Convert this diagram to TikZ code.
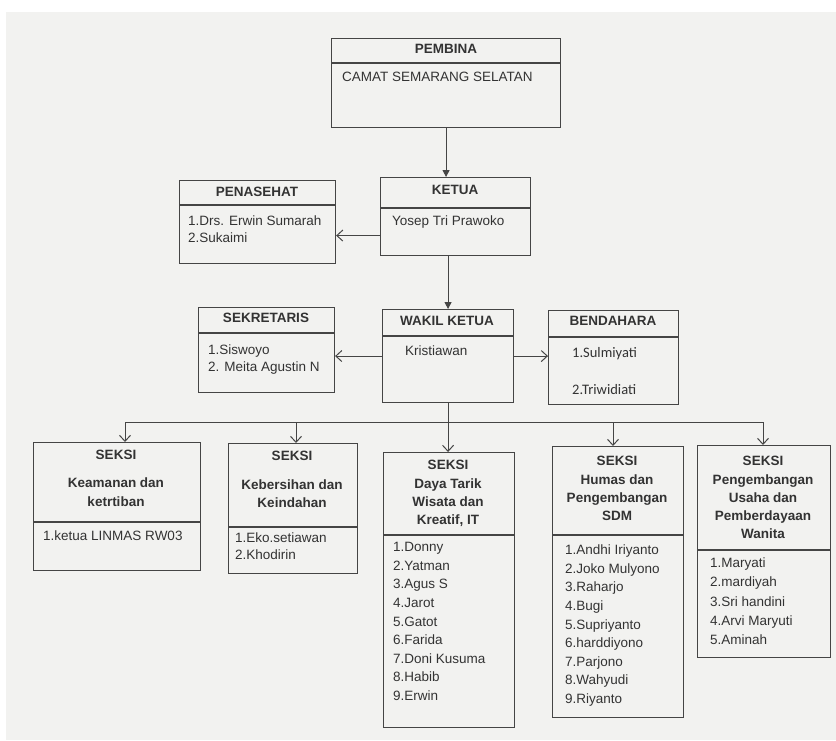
\documentclass[tikz,border=0pt]{standalone}
\usepackage{fontspec}
\setmainfont{Liberation Sans}
\newfontfamily\calib{Carlito}
\usetikzlibrary{arrows.meta,calc}
\definecolor{ink}{HTML}{333333}
\definecolor{linec}{HTML}{454545}
\definecolor{paper}{HTML}{F2F2F0}
\tikzset{
 box/.style={draw=linec, line width=1.1pt, inner sep=0pt, anchor=north west},
 hdr/.style={draw=linec, line width=1.1pt},
 thdr/.style={draw=linec, line width=1.8pt},
 ttl/.style={font=\fontsize{13.5}{16}\selectfont\bfseries, text=ink, inner sep=0pt, anchor=mid},
 itm/.style={font=\fontsize{13.5}{16}\selectfont, text=ink, inner sep=0pt, anchor=mid west},
 citm/.style={itm, font=\calib\fontsize{14.5}{16}\selectfont},
 conn/.style={draw=linec, line width=1pt},
 barb/.style={conn, -{Straight Barb[length=6pt,width=11pt,line width=1pt]}},
 solidarr/.style={conn, -{Triangle[length=7pt,width=7pt]}},
}
\newcommand\orgbox[7]{% style name x1 y1 x2 y2 headery
 \node[box, minimum width={(#5-#3)*1pt}, minimum height={(#6-#4)*1pt}] (#2) at (#3,#4) {};
 \draw[#1] (#3,#7) -- (#5,#7);}
\newcommand\itemlist[5]{%
 \foreach \t [count=\i] in {#5} {\node[itm] (#1\i) at (#2,{#3+(\i-1)*#4}) {\t};}}
\newcommand\titlelist[3]{%
 \foreach \yy/\t [count=\i] in {#3} {\node[ttl] (#1\i) at (#2,\yy) {\t};}}
\begin{document}
\begin{tikzpicture}[x=1pt,y=-1pt]
\useasboundingbox (0,0) rectangle (836,740);
\fill[paper] (6,12) rectangle (836,740);

% top
\orgbox{thdr}{pembina}{331}{38}{560}{127}{63}
\node[ttl] (pembinaT) at (446,51) {PEMBINA};
\node[itm] (pembinaI) at (342,79) {CAMAT SEMARANG SELATAN};

\orgbox{thdr}{ketua}{380}{177}{530}{255}{208}
\node[ttl] (ketuaT) at (455,192) {KETUA};
\node[itm] (ketuaI) at (392,223) {Yosep Tri Prawoko};

\orgbox{thdr}{penasehat}{179}{180}{335}{263}{205}
\node[ttl] (penasehatT) at (257,194) {PENASEHAT};
\itemlist{pen}{188}{223}{17}{1.Drs. Erwin Sumarah, 2.Sukaimi}

\orgbox{hdr}{sekretaris}{198}{307}{334}{392}{333}
\node[ttl] (sekretarisT) at (266,320) {SEKRETARIS};
\itemlist{sek}{208}{352}{17}{1.Siswoyo, 2. Meita Agustin N}

\orgbox{hdr}{wakil}{382}{309}{513}{402}{336}
\node[ttl] (wakilT) at (447,323) {WAKIL KETUA};
\node[itm] (wakilI) at (405,353) {Kristiawan};

\orgbox{hdr}{bendahara}{548}{310}{678}{404}{337}
\node[ttl] (bendaharaT) at (613,323) {BENDAHARA};
\node[citm] (ben1) at (572,355) {1.Sulmiyati};
\node[citm] (ben2) at (572,392) {2.Triwidiati};

% seksi
\orgbox{hdr}{s1}{33}{442}{200}{570}{522}
\titlelist{s1t}{116}{457/SEKSI, 485/Keamanan dan, 504/ketrtiban}
\node[itm] (s1i) at (43,538) {1.ketua LINMAS RW03};

\orgbox{thdr}{s2}{228}{443}{357}{573}{527}
\titlelist{s2t}{292}{458/SEKSI, 487/Kebersihan dan, 505/Keindahan}
\itemlist{s2i}{235}{540}{17}{1.Eko.setiawan, 2.Khodirin}

\orgbox{hdr}{s3}{383}{452}{514}{727}{535}
\titlelist{s3t}{448}{467/SEKSI, 486/Daya Tarik, 504/Wisata dan, 522/{Kreatif, IT}}
\itemlist{s3i}{393}{549}{18.6}{1.Donny, 2.Yatman, 3.Agus S, 4.Jarot, 5.Gatot, 6.Farida, 7.Doni Kusuma, 8.Habib, 9.Erwin}

\orgbox{hdr}{s4}{552}{446}{683}{717}{535}
\titlelist{s4t}{617}{463/SEKSI, 482/Humas dan, 500/Pengembangan, 518/SDM}
\itemlist{s4i}{565}{552}{18.6}{1.Andhi Iriyanto, 2.Joko Mulyono, 3.Raharjo, 4.Bugi, 5.Supriyanto, 6.harddiyono, 7.Parjono, 8.Wahyudi, 9.Riyanto}

\orgbox{hdr}{s5}{697}{445}{830}{657}{550}
\titlelist{s5t}{763}{463/SEKSI, 482/Pengembangan, 500/Usaha dan, 518/Pemberdayaan, 536/Wanita}
\itemlist{s5i}{710}{565}{19.2}{1.Maryati, 2.mardiyah, 3.Sri handini, 4.Arvi Maryuti, 5.Aminah}

% connectors
\draw[solidarr] (pembina.south) -- (pembina.south |- ketua.north);
\draw[solidarr] (ketua.south -| wakil.north) -- (wakil.north);
\draw[barb] ([yshift=-19pt]ketua.west) -- ([yshift=-19pt]ketua.west -| penasehat.east);
\draw[barb] (wakil.west) -- (wakil.west -| sekretaris.east);
\draw[barb] (wakil.east) -- (wakil.east -| bendahara.west);

\coordinate (b1) at (125,422);
\coordinate (b2) at (296,422);
\coordinate (b4) at (613,422);
\coordinate (b5) at (763,422);
\coordinate (b3) at (wakil.south |- b1);
\draw[conn] (b1) -- (b5);
\draw[barb] (wakil.south) -- (wakil.south |- s3.north);
\draw[barb] (b1) -- (b1 |- s1.north);
\draw[barb] (b2) -- (b2 |- s2.north);
\draw[barb] (b4) -- (b4 |- s4.north);
\draw[barb] (b5) -- (b5 |- s5.north);
\end{tikzpicture}
\end{document}
